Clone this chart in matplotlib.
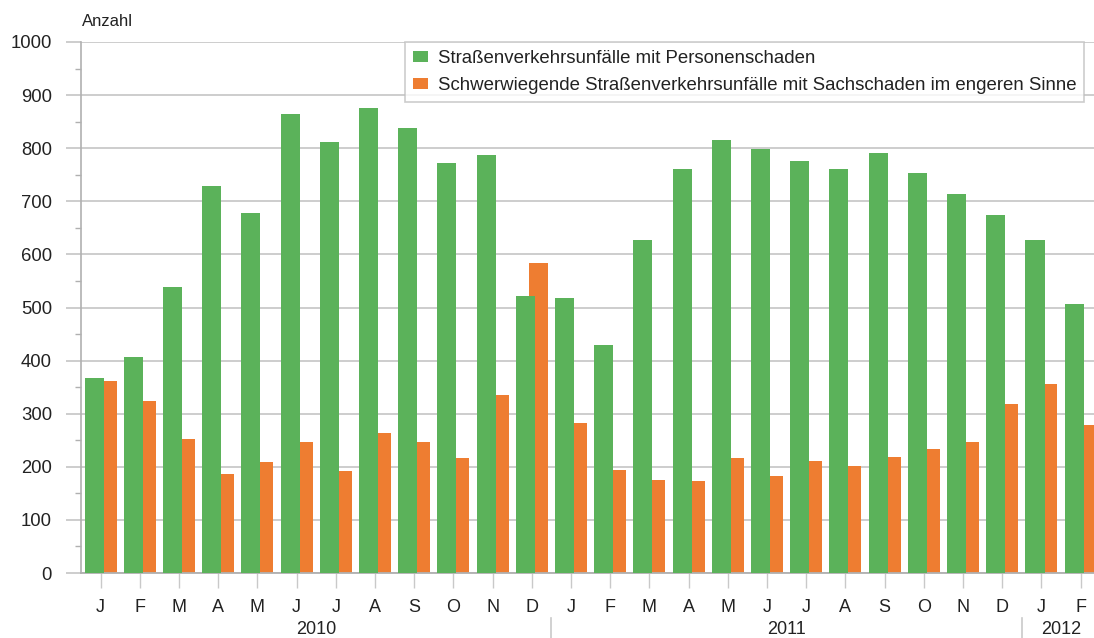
import matplotlib
matplotlib.use("Agg")
import matplotlib.pyplot as plt
import numpy as np
from matplotlib.transforms import blended_transform_factory
from matplotlib.lines import Line2D

plt.rcParams['font.family'] = ['Liberation Sans', 'DejaVu Sans']

months = ["J", "F", "M", "A", "M", "J", "J", "A", "S", "O", "N", "D",
          "J", "F", "M", "A", "M", "J", "J", "A", "S", "O", "N", "D",
          "J", "F"]
years = ["2010", "2011", "2012"]
year_counts = [12, 12, 2]

personenschaden = [367, 407, 539, 729, 678, 864, 812, 876, 838, 772, 787, 522,
                   517, 429, 628, 760, 815, 798, 776, 760, 791, 754, 714, 675,
                   628, 507]
sachschaden = [362, 324, 252, 186, 209, 247, 192, 263, 246, 217, 336, 583,
               283, 194, 175, 173, 216, 183, 211, 201, 218, 233, 247, 319,
               356, 278]

label_p = "Straßenverkehrsunfälle mit Personenschaden"
label_s = "Schwerwiegende Straßenverkehrsunfälle mit Sachschaden im engeren Sinne"

green = "#5BB25A"
orange = "#EE7D31"
grid_c = "#c9c9c9"
text_c = "#222222"

W, H = 1094, 638
fig = plt.figure(figsize=(W / 100, H / 100), dpi=100)
ax = fig.add_axes([81 / W, 1 - 573 / H, 1 - 81 / W, (573 - 42) / H])

x = np.arange(len(months))
bw = 0.485
off = 0.165
ax.bar(x + off, sachschaden, width=bw, color=orange, zorder=2, label=label_s)
ax.bar(x - off, personenschaden, width=bw, color=green, zorder=3, label=label_p)

ax.set_xlim(-0.5, 25.34)
ax.set_ylim(0, 1000)
ax.set_yticks(np.arange(0, 1001, 100))
ax.set_yticks(np.arange(50, 1000, 100), minor=True)
ax.grid(axis='y', which='major', color=grid_c, linewidth=1.3, zorder=0)
ax.set_axisbelow(True)

for s in ['top', 'right']:
    ax.spines[s].set_visible(False)
ax.spines['left'].set_color("#b0b0b0")
ax.spines['bottom'].set_color("#b0b0b0")
ax.spines['left'].set_linewidth(1.2)
ax.spines['bottom'].set_linewidth(1.3)

ax.tick_params(axis='y', which='major', length=10.8, width=1.3, color=grid_c,
               labelsize=13.3, labelcolor=text_c, pad=10)
ax.tick_params(axis='y', which='minor', length=4, width=1.0, color="#b0b0b0")
ax.set_xticks(x)
ax.set_xticklabels(months)
ax.tick_params(axis='x', length=10.5, width=1.0, color=grid_c,
               labelsize=13, labelcolor=text_c, pad=8)

fig.text(82 / W, 1 - 22 / H, "Anzahl", fontsize=12, color=text_c,
         ha='left', va='center')

trans = blended_transform_factory(ax.transData, fig.transFigure)
start = 0
for i, (yr, n) in enumerate(zip(years, year_counts)):
    center = start + (n - 1) / 2
    ax.text(center, 1 - 630 / H, yr, transform=trans, ha='center', va='center',
            fontsize=13, color=text_c, clip_on=False)
    if i > 0:
        ax.add_line(Line2D([start - 0.5, start - 0.5], [1 - 618 / H, 0],
                           transform=trans, color=grid_c, linewidth=1.2,
                           clip_on=False))
    start += n

handles, labels = ax.get_legend_handles_labels()
leg = ax.legend(handles[::-1], labels[::-1], loc='upper right',
                bbox_to_anchor=(1084 / W, 1 - 42 / H), bbox_transform=fig.transFigure,
                fontsize=13.45, frameon=True, fancybox=False, borderpad=0.42,
                handlelength=0.82, handleheight=0.5, handletextpad=0.5,
                labelspacing=0.55, borderaxespad=0)
leg.get_frame().set_edgecolor("#c0c0c0")
leg.get_frame().set_linewidth(1.2)
for t in leg.get_texts():
    t.set_color(text_c)
leg.set_zorder(5)

fig.savefig("out.png", dpi=100)
